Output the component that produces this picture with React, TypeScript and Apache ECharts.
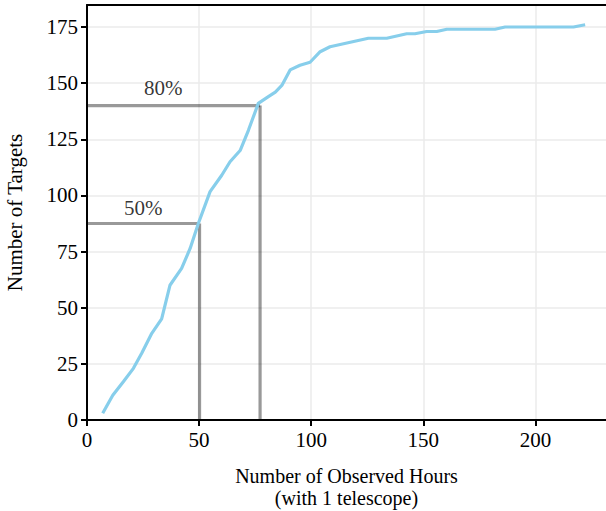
import React, { useEffect, useRef } from "react";
import * as echarts from "echarts";

// Cumulative number of targets versus observed hours
const hours = [7, 11.5, 16.2, 20.7, 24.4, 28.9, 33.3, 37, 42.2, 46, 49.7, 54.9, 60.1, 63.8, 68.3, 72, 76.4, 80.9, 84, 86.9, 90.6, 95, 99.5, 104, 108.4, 125.5, 133.7, 142.6, 146.3, 151.5, 156, 160.5, 182, 186.5, 217, 222.2];
const targets = [3, 11, 17, 23, 29.7, 38.6, 45, 60, 67.5, 76.4, 87.6, 101.7, 109, 115, 120, 129, 141, 144, 146, 149, 155.9, 158, 159.3, 164, 166.2, 170, 170, 172, 172, 173, 173, 174, 174, 175, 175, 176];

// Completion thresholds: [hours, targets, label]
const thresholdHours = [50.2, 77.2];
const thresholdTargets = [87.5, 140];
const thresholdLabels = ["50%", "80%"];
const labelPos = [[25.1, 94.5], [34, 148]];

const xTicks = [0, 50, 100, 150, 200];
const yTicks = [0, 25, 50, 75, 100, 125, 150, 175];

const FONT = "'Liberation Serif', 'DejaVu Serif', serif";
const FS = 21;

export default function App() {
  const ref = useRef<HTMLDivElement>(null);

  useEffect(() => {
    if (!ref.current) return;
    const chart = echarts.init(ref.current, null, { renderer: "svg" });

    const guideStyle = { color: "rgba(0,0,0,0.4)", width: 3.2 };
    const guideSeries: any[] = [];
    thresholdHours.forEach((h, i) => {
      const t = thresholdTargets[i];
      guideSeries.push({
        type: "line",
        data: [[0, t], [h, t]],
        symbol: "none",
        lineStyle: guideStyle,
        z: 2,
      });
      guideSeries.push({
        type: "line",
        data: [[h, 0], [h, t]],
        symbol: "none",
        lineStyle: guideStyle,
        z: 2,
      });
    });

    chart.setOption({
      animation: false,
      grid: {
        left: 87,
        right: 0,
        top: 5,
        bottom: 91,
        containLabel: false,
        outerBoundsMode: "none",
      },
      xAxis: [
        {
          type: "value",
          min: 0,
          max: 231.5,
          interval: 50,
          name: "Number of Observed Hours\n(with 1 telescope)",
          nameLocation: "middle",
          nameGap: 45,
          nameTextStyle: { fontFamily: FONT, fontSize: 20, color: "#000", lineHeight: 22 },
          axisLine: { show: true, lineStyle: { color: "#000", width: 2 } },
          axisTick: { show: true, length: 6, lineStyle: { color: "#000", width: 2 }, customValues: xTicks },
          axisLabel: { fontFamily: FONT, fontSize: FS, color: "#000", margin: 9, customValues: xTicks },
          splitLine: { show: true, lineStyle: { color: "#ebebeb", width: 1.5 } },
        },
        {
          type: "value",
          position: "top",
          min: 0,
          max: 231.5,
          axisLine: { show: true, lineStyle: { color: "#000", width: 2 } },
          axisTick: { show: false },
          axisLabel: { show: false },
          splitLine: { show: false },
        },
      ],
      yAxis: {
        type: "value",
        min: 0,
        max: 184.8,
        interval: 25,
        name: "Number of Targets",
        nameLocation: "middle",
        nameGap: 62,
        nameTextStyle: { fontFamily: FONT, fontSize: FS, color: "#000" },
        axisLine: { show: true, lineStyle: { color: "#000", width: 2 } },
        axisTick: { show: true, length: 6, lineStyle: { color: "#000", width: 2 }, customValues: yTicks },
        axisLabel: { fontFamily: FONT, fontSize: FS, color: "#000", margin: 9, customValues: yTicks },
        splitLine: { show: true, lineStyle: { color: "#ebebeb", width: 1.5 } },
      },
      series: [
        ...guideSeries,
        {
          type: "line",
          data: hours.map((h, i) => [h, targets[i]]),
          symbol: "none",
          lineStyle: { color: "#87CEEB", width: 3.2 },
          z: 3,
        },
        {
          type: "scatter",
          data: labelPos.map((p, i) => ({ value: p, name: thresholdLabels[i] })),
          symbolSize: 1,
          itemStyle: { color: "rgba(0,0,0,0)" },
          label: {
            show: true,
            position: "inside",
            formatter: (p: any) => p.name,
            fontFamily: FONT,
            fontSize: FS,
            color: "#000",
          },
          z: 4,
        },
      ],
    });

    return () => chart.dispose();
  }, []);

  return (
    <div
      ref={ref}
      style={{ position: "absolute", left: 0, top: 0, width: 606, height: 511 }}
    />
  );
}
